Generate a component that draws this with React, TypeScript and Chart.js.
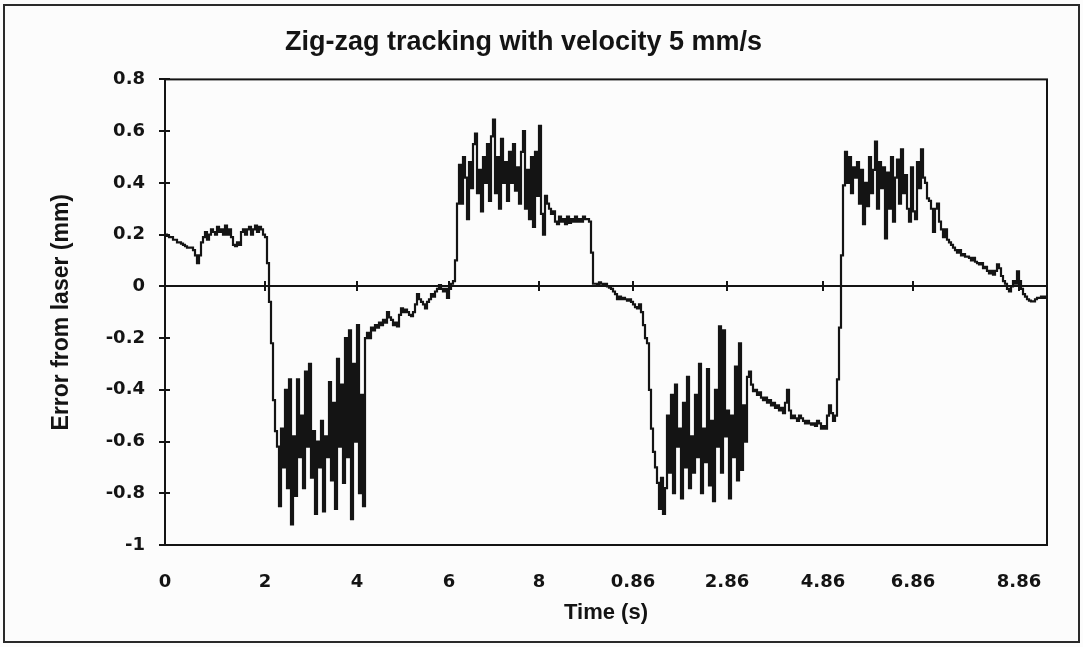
import React, { useEffect, useRef } from "react";
import { Chart, registerables } from "chart.js";

Chart.register(...registerables);

const TITLE = "Zig-zag tracking with velocity 5 mm/s";
const X_TITLE = "Time (s)";
const Y_TITLE = "Error from laser (mm)";

// sample index of each labelled category on the time axis
const TICK_INDEX = [0, 50, 96, 142, 187, 234, 281, 329, 374, 427];
const TICK_LABELS = ["0", "2", "4", "6", "8", "0.86", "2.86", "4.86", "6.86", "8.86"];

const Y_MIN = -1;
const Y_MAX = 0.8;
const Y_STEP = 0.2;

// error readings (mm), one per sample, in run order
const SEG_START = [
  0.2, 0.195, 0.19, 0.19, 0.18, 0.18, 0.17, 0.17, 0.165, 0.16, 0.155, 0.15, 0.15, 0.15, 0.14, 0.12, 0.09,
  0.12, 0.17, 0.19, 0.21, 0.18, 0.2, 0.22, 0.21, 0.2, 0.23, 0.21, 0.22, 0.2, 0.235, 0.2, 0.22, 0.19, 0.16,
  0.155, 0.17, 0.16, 0.21, 0.22, 0.2, 0.22, 0.23, 0.2, 0.22, 0.235, 0.21, 0.23, 0.22, 0.2, 0.19,
];
const SEG_DROP1 = [0.09, -0.06, -0.22, -0.44, -0.56];
const SEG_NOISE1 = [
  -0.62, -0.85, -0.55, -0.7, -0.4, -0.78, -0.36, -0.92, -0.58, -0.81, -0.36, -0.66, -0.5, -0.78, -0.33,
  -0.62, -0.3, -0.74, -0.56, -0.88, -0.6, -0.7, -0.52, -0.87, -0.58, -0.66, -0.37, -0.75, -0.45, -0.86,
  -0.28, -0.62, -0.38, -0.76, -0.2, -0.66, -0.17, -0.9, -0.3, -0.6, -0.15, -0.8, -0.42, -0.85, -0.2,
];
const SEG_RISE1 = [
  -0.18, -0.2, -0.16, -0.17, -0.15, -0.16, -0.14, -0.15, -0.13, -0.14, -0.1, -0.12, -0.13, -0.15, -0.14,
  -0.155, -0.11, -0.085, -0.1, -0.09, -0.1, -0.11, -0.115, -0.1, -0.07, -0.03, -0.05, -0.06, -0.07, -0.085,
  -0.06, -0.05, -0.03, -0.04, -0.02, -0.01, 0.005, -0.01, -0.02, -0.01, -0.045, -0.01, 0.01, 0.02, 0.1, 0.32,
];
const SEG_NOISE2 = [
  0.47, 0.32, 0.5, 0.42, 0.26, 0.48, 0.38, 0.55, 0.59, 0.36, 0.45, 0.29, 0.5, 0.4, 0.55, 0.33, 0.58, 0.645,
  0.36, 0.5, 0.3, 0.57, 0.4, 0.48, 0.33, 0.52, 0.4, 0.55, 0.37, 0.46, 0.32, 0.52, 0.6, 0.3, 0.45, 0.26,
  0.5, 0.23, 0.52, 0.35, 0.62, 0.28, 0.2,
];
const SEG_PLATEAU1 = [
  0.35, 0.32, 0.3, 0.28, 0.29, 0.25, 0.24, 0.27, 0.25, 0.26, 0.24, 0.27, 0.245, 0.26, 0.25, 0.27, 0.25,
  0.26, 0.25, 0.27, 0.26, 0.26, 0.25, 0.13, 0.01, 0.01, 0.005, 0.015, 0.01, 0.005, 0.01, 0.0, -0.005,
  -0.01, -0.02, -0.03, -0.05, -0.04, -0.05, -0.045, -0.05, -0.055, -0.05, -0.06, -0.07, -0.08, -0.085,
  -0.07, -0.1, -0.15, -0.2, -0.22, -0.4, -0.55, -0.64, -0.7,
];
const SEG_NOISE3 = [
  -0.76, -0.86, -0.74, -0.88, -0.78, -0.5, -0.72, -0.42, -0.8, -0.38, -0.62, -0.55, -0.82, -0.45, -0.7,
  -0.35, -0.78, -0.58, -0.72, -0.42, -0.66, -0.3, -0.8, -0.55, -0.68, -0.32, -0.77, -0.52, -0.83, -0.4,
  -0.62, -0.155, -0.72, -0.17, -0.58, -0.48, -0.82, -0.5, -0.66, -0.31, -0.75, -0.22, -0.71, -0.46, -0.6,
  -0.35, -0.33,
];
const SEG_PLATEAU2 = [
  -0.38, -0.405, -0.4, -0.42, -0.41, -0.43, -0.44, -0.43, -0.45, -0.44, -0.46, -0.45, -0.47, -0.46, -0.48,
  -0.47, -0.49, -0.45, -0.4, -0.48, -0.51, -0.5, -0.51, -0.52, -0.5, -0.51, -0.52, -0.53, -0.52, -0.53,
  -0.535, -0.53, -0.54, -0.52, -0.53, -0.55, -0.54, -0.55, -0.5, -0.46, -0.49, -0.52, -0.5, -0.36, -0.16,
  0.12, 0.39,
];
const SEG_NOISE4 = [
  0.52, 0.4, 0.5, 0.36, 0.46, 0.42, 0.48, 0.32, 0.45, 0.24, 0.4, 0.31, 0.5, 0.36, 0.45, 0.56, 0.3, 0.48,
  0.38, 0.46, 0.185, 0.44, 0.3, 0.5, 0.25, 0.42, 0.49, 0.32, 0.53, 0.36, 0.43, 0.3, 0.25, 0.46, 0.29, 0.26,
  0.48, 0.38, 0.53, 0.42, 0.4,
];
const SEG_DECAY = [
  0.34, 0.33, 0.3, 0.21, 0.3, 0.32, 0.25, 0.22, 0.19, 0.22, 0.18, 0.17, 0.16, 0.15, 0.14, 0.13, 0.14, 0.12,
  0.125, 0.115, 0.115, 0.11, 0.1, 0.11, 0.095, 0.09, 0.085, 0.09, 0.07, 0.075, 0.06, 0.05, 0.06, 0.045,
  0.06, 0.085, 0.07, 0.04, 0.02, 0.01, -0.01, -0.02, 0.0, 0.02, 0.01, 0.058, 0.02, -0.01, -0.03, -0.04,
  -0.05, -0.055, -0.058, -0.058, -0.05, -0.045, -0.045, -0.04, -0.045, -0.04, -0.04,
];

const ERROR_MM = [
  ...SEG_START,
  ...SEG_DROP1,
  ...SEG_NOISE1,
  ...SEG_RISE1,
  ...SEG_NOISE2,
  ...SEG_PLATEAU1,
  ...SEG_NOISE3,
  ...SEG_PLATEAU2,
  ...SEG_NOISE4,
  ...SEG_DECAY,
];

const INK = "#141414";

const framePlugin = {
  id: "frameAndZero",
  beforeDraw(chart: any) {
    const ctx = chart.ctx;
    ctx.save();
    ctx.fillStyle = "#fcfcfc";
    ctx.fillRect(0, 0, chart.width, chart.height);
    ctx.strokeStyle = "#2a2a2a";
    ctx.lineWidth = 2;
    ctx.strokeRect(4, 5, chart.width - 8, chart.height - 10);
    ctx.restore();
  },
  beforeDatasetsDraw(chart: any) {
    const { ctx, chartArea, scales } = chart;
    const { left, right, top, bottom } = chartArea;
    const xs = scales.x;
    const ys = scales.y;
    ctx.save();
    ctx.strokeStyle = INK;
    ctx.lineWidth = 2;
    ctx.strokeRect(left, top, right - left, bottom - top);
    const y0 = Math.round(ys.getPixelForValue(0));
    ctx.beginPath();
    ctx.moveTo(left, y0);
    ctx.lineTo(right, y0);
    ctx.stroke();
    TICK_INDEX.slice(1).forEach((v) => {
      const px = Math.round(xs.getPixelForValue(v));
      ctx.beginPath();
      ctx.moveTo(px, y0 - 5);
      ctx.lineTo(px, y0 + 5);
      ctx.stroke();
    });
    for (let k = 0; k <= Math.round((Y_MAX - Y_MIN) / Y_STEP); k++) {
      const v = Y_MIN + k * Y_STEP;
      const py = Math.round(ys.getPixelForValue(v));
      ctx.beginPath();
      ctx.moveTo(left - 6, py);
      ctx.lineTo(left + 5, py);
      ctx.stroke();
    }
    ctx.restore();
  },
};

export default function App() {
  const ref = useRef<HTMLCanvasElement | null>(null);

  useEffect(() => {
    if (!ref.current) return;
    const points = ERROR_MM.map((v, i) => ({ x: i, y: v }));
    const chart = new Chart(ref.current, {
      type: "line",
      data: {
        datasets: [
          {
            label: Y_TITLE,
            data: points,
            borderColor: INK,
            borderWidth: 2.2,
            pointRadius: 0,
            stepped: true,
            fill: false,
          },
        ],
      },
      options: {
        animation: false,
        responsive: false,
        layout: { padding: { left: 0, right: 36, top: 0, bottom: 0 } },
        plugins: {
          legend: { display: false },
          tooltip: { enabled: false },
          title: {
            display: true,
            text: TITLE,
            color: INK,
            font: { family: "'Liberation Sans', Arial, sans-serif", weight: "bold", size: 27 },
            padding: { top: 26, bottom: 21 },
          },
        },
        scales: {
          x: {
            type: "linear",
            min: 0,
            max: ERROR_MM.length - 1,
            grid: { display: false },
            border: { display: false },
            afterBuildTicks: (scale: any) => {
              scale.ticks = TICK_INDEX.map((v) => ({ value: v }));
            },
            afterFit: (scale: any) => {
              scale.height = 102;
            },
            ticks: {
              autoSkip: false,
              maxRotation: 0,
              padding: 19,
              color: INK,
              font: { family: "'DejaVu Sans', sans-serif", weight: "bold", size: 18 },
              callback: (v: any) => {
                const k = TICK_INDEX.indexOf(Number(v));
                return k >= 0 ? TICK_LABELS[k] : "";
              },
            },
            title: {
              display: true,
              text: X_TITLE,
              color: INK,
              font: { family: "'Liberation Sans', Arial, sans-serif", weight: "bold", size: 22 },
              padding: { top: 0, bottom: 21 },
            },
          },
          y: {
            min: Y_MIN,
            max: Y_MAX,
            grid: { display: false },
            border: { display: false },
            afterFit: (scale: any) => {
              scale.width = 165;
            },
            ticks: {
              stepSize: Y_STEP,
              padding: 12,
              color: INK,
              font: { family: "'DejaVu Sans', sans-serif", weight: "bold", size: 18 },
              callback: (v: any) => String(Math.round(Number(v) * 10) / 10),
            },
            title: {
              display: true,
              text: Y_TITLE,
              color: INK,
              font: { family: "'Liberation Sans', Arial, sans-serif", weight: "bold", size: 23 },
              padding: { top: 48, bottom: 0 },
            },
          },
        },
      },
      plugins: [framePlugin],
    });
    return () => chart.destroy();
  }, []);

  return (
    <canvas
      ref={ref}
      width={1083}
      height={647}
      style={{ position: "fixed", left: 0, top: 0, width: 1083, height: 647 }}
    />
  );
}
